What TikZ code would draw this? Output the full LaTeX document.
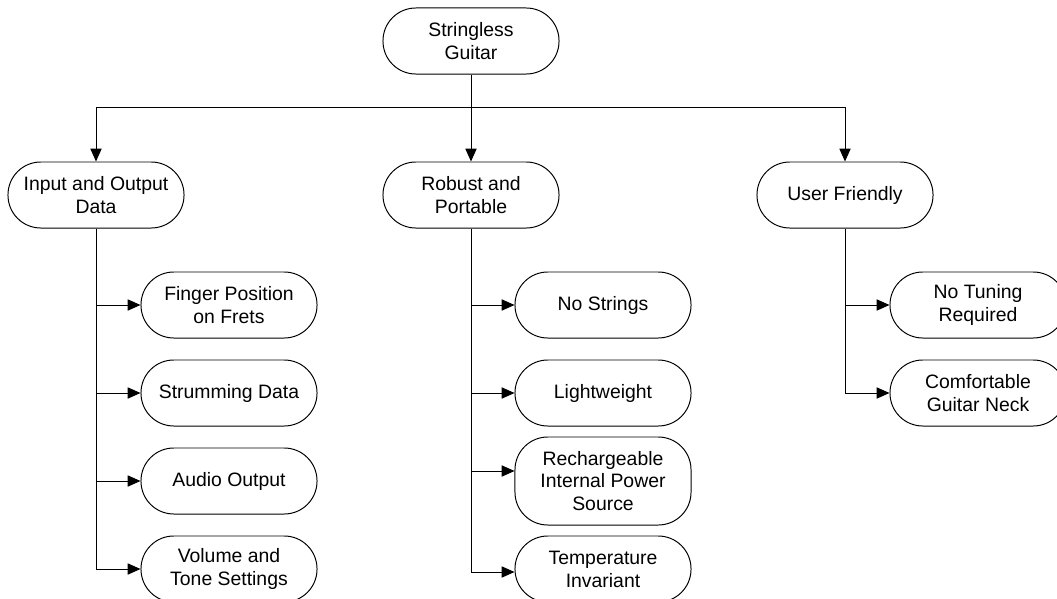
\documentclass[tikz,border=0pt]{standalone}
\usepackage{fontspec}
\setmainfont{Liberation Sans}
\usepackage{tikz}
\usetikzlibrary{arrows.meta,calc}

\begin{document}
\begin{tikzpicture}[
  x=0.025cm, y=-0.025cm,
  goal/.style={rectangle, draw, rounded corners=0.82cm, minimum width=4.4cm, minimum height=1.65cm, align=center, line width=0.7pt, inner sep=2pt, font=\fontsize{13.8}{16.3}\selectfont},
  conn/.style={-{Triangle[length=3.2mm,width=2.8mm]}, line width=0.7pt}
]
\useasboundingbox (0,0) rectangle (1057,598);

% top level
\node[goal] (guitar) at (471,41) {Stringless\\Guitar};

% main requirements
\node[goal] (iodata) at (96,195) {Input and Output\\Data};
\node[goal] (robust) at (471,195) {Robust and\\Portable};
\node[goal] (friendly) at (845,195) {User Friendly};

% input and output data
\node[goal] (finger) at (229,305) {Finger Position\\on Frets};
\node[goal] (strum) at (229,393) {Strumming Data};
\node[goal] (audio) at (229,481) {Audio Output};
\node[goal] (volume) at (229,569) {Volume and\\Tone Settings};

% robust and portable
\node[goal] (nostrings) at (603,305) {No Strings};
\node[goal] (light) at (603,393) {Lightweight};
\node[goal, minimum height=2.2cm] (power) at (603,481) {Rechargeable\\Internal Power\\Source};
\node[goal] (temp) at (603,569) {Temperature\\Invariant};

% user friendly
\node[goal] (tuning) at (978,305) {No Tuning\\Required};
\node[goal] (neck) at (978,393) {Comfortable\\Guitar Neck};

\draw[conn] (guitar.south) -- ++(0,33) -| (iodata.north);
\draw[conn] (guitar.south) -- (robust.north);
\draw[conn] (guitar.south) -- ++(0,33) -| (friendly.north);

\draw[conn] (iodata.south) |- (finger.west);
\draw[conn] (iodata.south) |- (strum.west);
\draw[conn] (iodata.south) |- (audio.west);
\draw[conn] (iodata.south) |- (volume.west);

\draw[conn] (robust.south) |- (nostrings.west);
\draw[conn] (robust.south) |- (light.west);
\draw[conn] (robust.south) |- ([yshift=0.25cm]power.west);
\draw[conn] (robust.south) |- ([yshift=-0.075cm]temp.west);

\draw[conn] (friendly.south) |- (tuning.west);
\draw[conn] (friendly.south) |- (neck.west);
\end{tikzpicture}
\end{document}
